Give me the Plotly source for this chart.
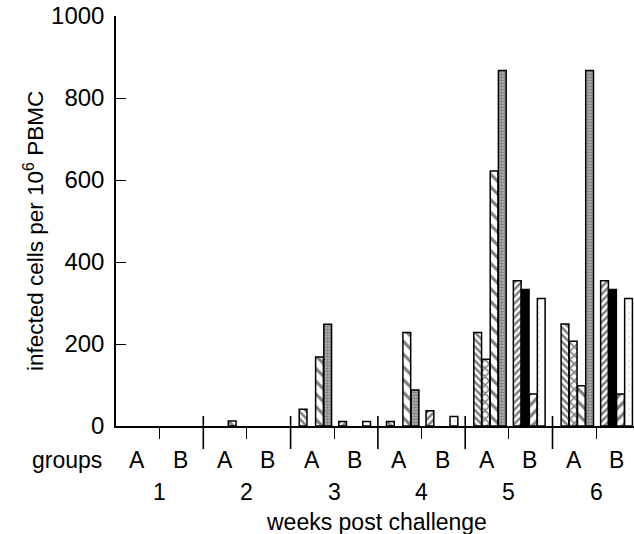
import plotly.graph_objects as go

# ---- data ----
weeks = [1, 2, 3, 4, 5, 6]
groups = ["A", "B"]
y_ticks = [0, 200, 400, 600, 800, 1000]

A1 = [None, None, 41, 11, 228, 249]
A2 = [None, None, None, None, 163, 207]
A3 = [None, 12, 168, 228, 622, 98]
A4 = [None, None, 248, 88, 867, 867]
B1 = [None, None, 11, 37, 354, 354]
B2 = [None, None, None, None, 333, 333]
B3 = [None, None, None, None, 78, 78]
B4 = [None, None, 11, 23, 311, 311]

series = [A1, A2, A3, A4, B1, B2, B3, B4]

# ---- styling / layout constants ----
slot_offsets = [0.143, 0.237, 0.331, 0.425, 0.596, 0.687, 0.779, 0.871]
bar_width = 0.089
styles = [
    dict(color="white", pattern=dict(shape="\\", size=5, solidity=0.5, fgcolor="black", bgcolor="white")),
    dict(color="white", pattern=dict(shape="x", size=6, solidity=0.45, fgcolor="black", bgcolor="white")),
    dict(color="white", pattern=dict(shape="\\", size=9, solidity=0.35, fgcolor="black", bgcolor="white")),
    dict(color="#9a9a9a", pattern=dict(shape=".", size=3, solidity=0.55, fgcolor="#444444", bgcolor="#b8b8b8")),
    dict(color="white", pattern=dict(shape="/", size=5, solidity=0.5, fgcolor="black", bgcolor="white")),
    dict(color="black"),
    dict(color="white", pattern=dict(shape="/", size=8, solidity=0.4, fgcolor="black", bgcolor="white")),
    dict(color="white", pattern=dict(shape=".", size=6, solidity=0.08, fgcolor="#bbbbbb", bgcolor="white")),
]

FONT = "Liberation Sans, Arial, Helvetica, sans-serif"
LBL = 23

fig = go.Figure()
for vals, off, st in zip(series, slot_offsets, styles):
    fig.add_trace(go.Bar(
        x=[w - 1 + off for w in weeks],
        y=vals,
        width=bar_width,
        marker=dict(line=dict(color="black", width=1.5), **st),
        showlegend=False,
    ))

PLOT_H = 410.0
shapes = []
for w in weeks[:-1]:
    shapes.append(dict(type="line", xref="x", yref="paper", x0=w, x1=w,
                       y0=10 / PLOT_H, y1=-23 / PLOT_H,
                       line=dict(color="black", width=1.6)))

annotations = []
for w in weeks:
    for gi, g in enumerate(groups):
        annotations.append(dict(x=w - 1 + 0.245 + 0.49 * gi, y=-34 / PLOT_H, xref="x", yref="paper",
                                text=g, showarrow=False, xanchor="center", yanchor="middle",
                                font=dict(size=LBL, color="black", family=FONT)))
    annotations.append(dict(x=w - 0.5, y=-66 / PLOT_H, xref="x", yref="paper",
                            text=str(w), showarrow=False, xanchor="center", yanchor="middle",
                            font=dict(size=LBL, color="black", family=FONT)))
annotations.append(dict(x=-49 / 518, y=-34 / PLOT_H, xref="paper", yref="paper", text="groups",
                        showarrow=False, xanchor="center", yanchor="middle",
                        font=dict(size=LBL, color="black", family=FONT)))
annotations.append(dict(x=(376 - 116) / 518, y=-96 / PLOT_H, xref="paper", yref="paper",
                        text="weeks post challenge", showarrow=False, xanchor="center", yanchor="middle",
                        font=dict(size=LBL, color="black", family=FONT)))
annotations.append(dict(x=-82 / 518, y=(426 - 231) / PLOT_H, xref="paper", yref="paper",
                        text="infected cells per 10<sup>6</sup> PBMC", textangle=-90, showarrow=False,
                        xanchor="center", yanchor="middle",
                        font=dict(size=22.5, color="black", family=FONT)))

fig.update_layout(
    width=634, height=534,
    margin=dict(l=116, r=0, t=16, b=108),
    paper_bgcolor="white", plot_bgcolor="white",
    barmode="overlay",
    shapes=shapes,
    annotations=annotations,
    xaxis=dict(range=[0, 518 / 87.3], showgrid=False, zeroline=False,
               showline=True, linecolor="black", linewidth=1.5,
               tickmode="array", tickvals=[w - 0.5 for w in weeks], ticktext=["" for _ in weeks],
               ticks="outside", ticklen=11, tickwidth=1.3, tickcolor="black"),
    yaxis=dict(range=[0, 1000], showgrid=False, zeroline=False,
               showline=True, linecolor="black", linewidth=1.5,
               tickmode="array", tickvals=y_ticks, ticktext=[str(t) for t in y_ticks],
               ticks="inside", ticklen=10, tickwidth=1.3, tickcolor="black",
               ticklabelstandoff=5,
               tickfont=dict(size=24, color="black", family=FONT)),
)

fig.write_html("out.html", config={"displayModeBar": False})

# remove the default page margin so the figure sits at the window's top-left corner
with open("out.html", "r", encoding="utf-8") as f:
    html = f.read()
html = html.replace("<body>", '<body style="margin:0;padding:0;overflow:hidden">', 1)
with open("out.html", "w", encoding="utf-8") as f:
    f.write(html)
